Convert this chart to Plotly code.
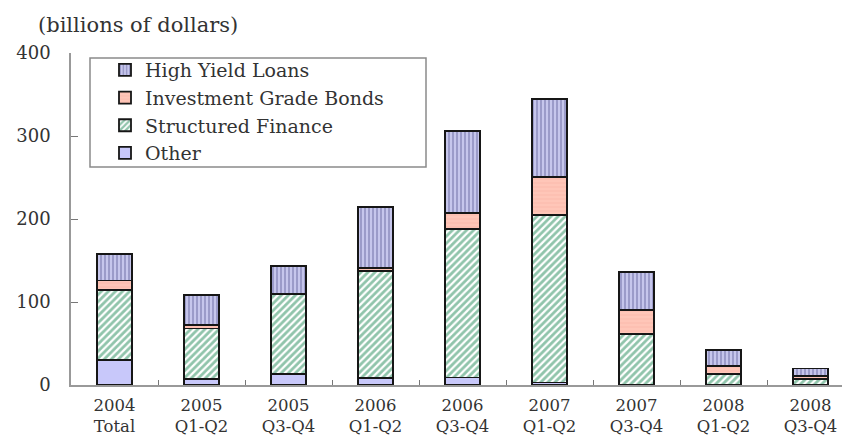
import plotly.graph_objects as go

categories = ["2004<br>Total", "2005<br>Q1-Q2", "2005<br>Q3-Q4", "2006<br>Q1-Q2", "2006<br>Q3-Q4",
              "2007<br>Q1-Q2", "2007<br>Q3-Q4", "2008<br>Q1-Q2", "2008<br>Q3-Q4"]
other = [30, 7, 13, 8, 9, 3, 0, 0, 0]
structured_finance = [84, 61, 97, 129, 179, 202, 61, 13, 7]
investment_grade = [12, 4, 0, 4, 19, 46, 29, 10, 4]
high_yield = [32, 36, 33, 73, 99, 94, 46, 19, 9]

FONT = "DejaVu Serif"
line = dict(color="#161616", width=1.8)

fig = go.Figure()
fig.add_trace(go.Bar(x=categories, y=other, name="Other",
                     marker=dict(color="#c8c8fa", line=line)))
fig.add_trace(go.Bar(x=categories, y=structured_finance, name="Structured Finance",
                     marker=dict(color="#ffffff", line=line,
                                 pattern=dict(shape="/", bgcolor="#ffffff", fgcolor="#218a58",
                                              size=5, solidity=0.55))))
fig.add_trace(go.Bar(x=categories, y=investment_grade, name="Investment Grade Bonds",
                     marker=dict(color="#ffc4b4", line=line,
                                 pattern=dict(shape="-", bgcolor="#ffc6b8", fgcolor="#f4aa9a",
                                              size=4, solidity=0.2))))
fig.add_trace(go.Bar(x=categories, y=high_yield, name="High Yield Loans",
                     marker=dict(color="#c0c0e8", line=line,
                                 pattern=dict(shape="|", bgcolor="#c6c6ec", fgcolor="#66669e",
                                              size=4, solidity=0.45))))

# page is shown with an 8px body margin, so the figure is shifted by 8px
OFF = 8
W, H = 850 - OFF, 438 - OFF
plot_l, plot_r, plot_t, plot_b = 71, 850, 53, 385   # page pixels of the plot area
ml, mr, mt, mb = plot_l - OFF, 850 - plot_r, plot_t - OFF, 438 - plot_b
pw, ph = plot_r - plot_l, plot_b - plot_t
cat_px = 87.0
x_max = -0.5 + pw / cat_px


def px_x(x):
    return (x - plot_l) / pw


def px_y(y):
    return (plot_b - y) / ph


fig.update_layout(
    width=W, height=H,
    margin=dict(l=ml, r=mr, t=mt, b=mb, autoexpand=False),
    barmode="stack",
    bargap=0.59,
    plot_bgcolor="white",
    paper_bgcolor="white",
    font=dict(family=FONT, size=16, color="#333333"),
    title=dict(text="(billions of dollars)", x=(38 - OFF) / W, xref="container", xanchor="left",
               y=1 - (25 - OFF) / H, yref="container", yanchor="middle",
               font=dict(family=FONT, size=21, color="#333333")),
    legend=dict(x=px_x(105), y=px_y(51), xanchor="left", yanchor="top",
                traceorder="reversed", borderwidth=0, bgcolor="rgba(0,0,0,0)",
                font=dict(family=FONT, size=19, color="#333333")),
    showlegend=True,
    shapes=[dict(type="rect", xref="paper", yref="paper",
                 x0=px_x(90), x1=px_x(426), y0=px_y(167), y1=px_y(58),
                 line=dict(color="#8a8a8a", width=1.5), fillcolor="white", layer="below")],
)
fig.update_xaxes(range=[-0.5, x_max], showline=True, linecolor="#999999", linewidth=1.5,
                 ticks="inside", tickson="boundaries", ticklen=5, tickcolor="#777777",
                 ticklabelstandoff=4, showgrid=False, tickfont=dict(size=16.5))
fig.update_yaxes(range=[0, 400], dtick=100, showline=True, linecolor="#999999", linewidth=1.5,
                 ticks="inside", ticklen=7, tickcolor="#777777", showgrid=False, zeroline=False,
                 ticklabelstandoff=15, tickfont=dict(size=18))

fig.write_html("out.html")
